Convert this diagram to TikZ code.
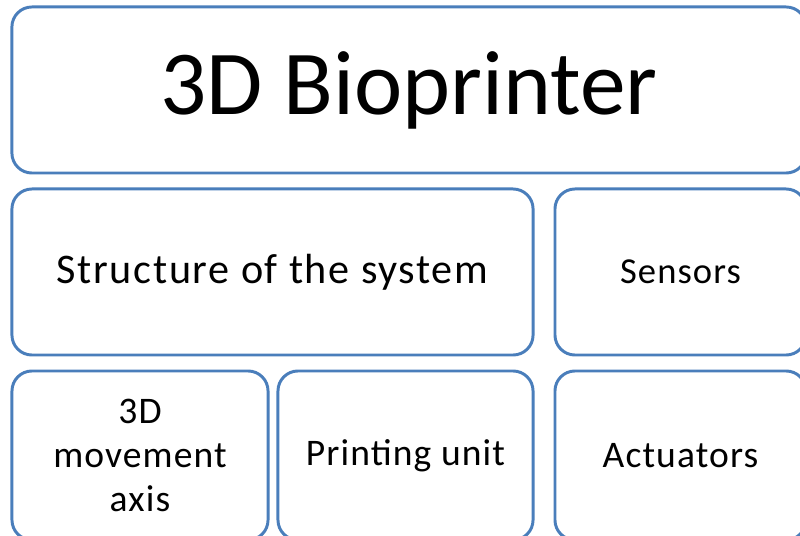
\documentclass[tikz,border=0pt]{standalone}
\usepackage{fontspec}
\setmainfont{Carlito}
\usepackage{xcolor}
\usepackage{tikz}
\usetikzlibrary{positioning}
\definecolor{boxblue}{HTML}{4A7EBB}

\begin{document}
\begin{tikzpicture}[x=0.025cm,y=-0.025cm]
        \tikzstyle{part_box}=[draw=boxblue,line width=2.1pt,rounded corners=0.5cm,fill=white,inner sep=0pt,align=center]
        \tikzstyle{part_low}=[part_box,minimum height=4.225cm,font=\fontsize{26.7}{31}\selectfont\addfontfeatures{LetterSpace=3}]
        \useasboundingbox (0,0) rectangle (800,536);
        \node[part_box,minimum width=19.85cm,minimum height=4.15cm,font=\fontsize{65}{78}\selectfont]  (bio) at (409,90) {3D Bioprinter};
        \node[part_box,minimum width=13.025cm,minimum height=4.15cm,font=\fontsize{30}{34}\selectfont\addfontfeatures{LetterSpace=4}]  (struct) at (272.5,272) {Structure of the system};
        \node[part_box,minimum width=6.275cm,minimum height=4.15cm,font=\fontsize{26}{30}\selectfont\addfontfeatures{LetterSpace=3}]  (sens) at (680.5,272) {Sensors};

        \node[part_low,minimum width=6.4cm]  (axis) at (140,455.5) {3D\\movement\\axis};
        \node[part_low,minimum width=6.375cm]  (print) at (405.5,455.5) {Printing unit};
        \node[part_low,minimum width=6.275cm]  (act) at (680.5,455.5) {Actuators};
    \end{tikzpicture}
\end{document}
